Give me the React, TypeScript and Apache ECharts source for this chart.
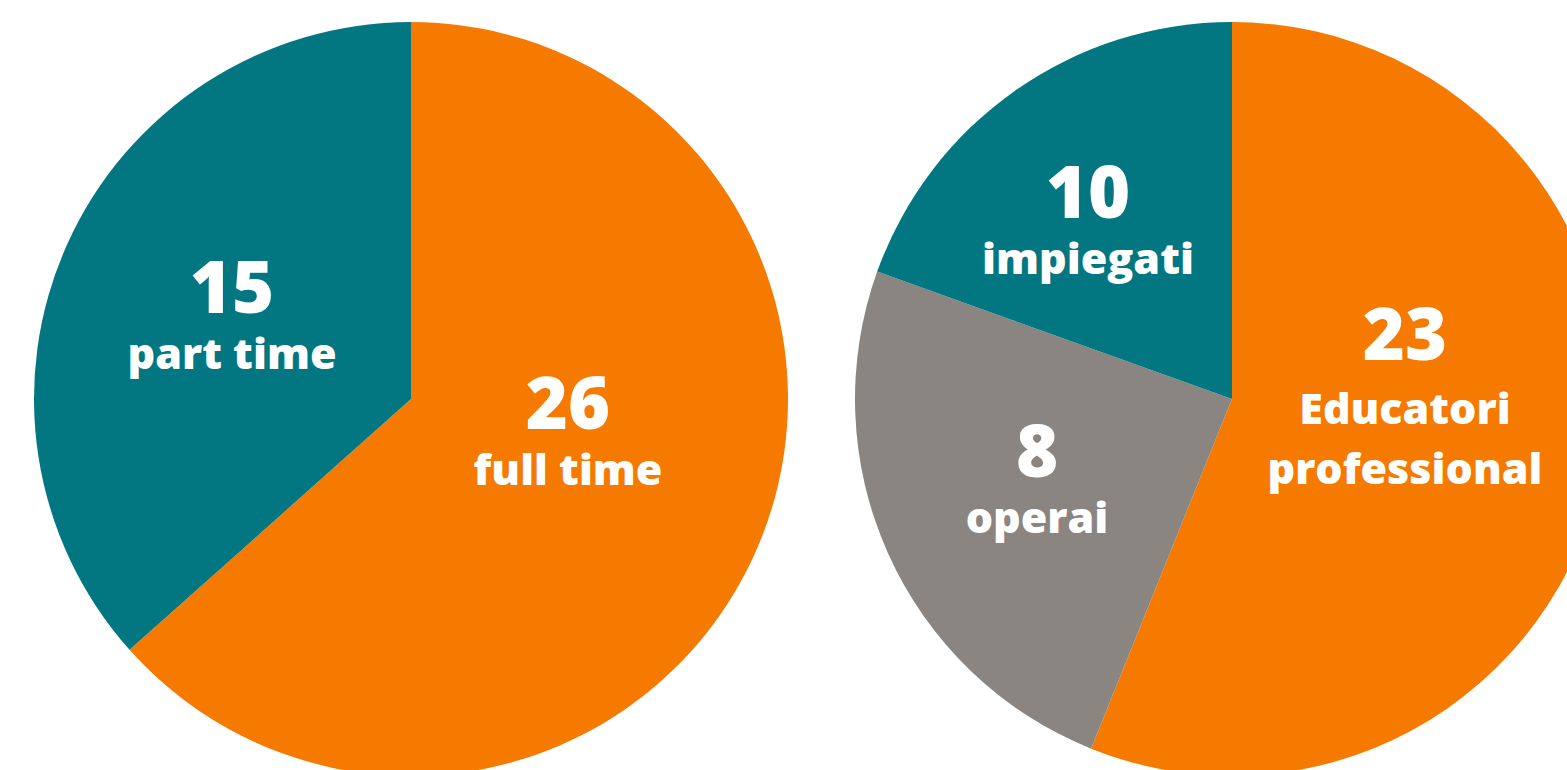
import React, { useEffect, useRef } from "react";
import * as echarts from "echarts";

// Left pie: contract type
const leftNames = ["full time", "part time"];
const leftValues = [26, 15];
// Right pie: roles (slice sizes as drawn, clockwise from top)
const rightNames = ["Educatori\nprofessional", "operai", "impiegati"];
const rightValues = [23, 10, 8];
// Numbers printed in the labels of the right pie
const rightLabelNumbers = [23, 8, 10];

const leftColors = ["#F77A00", "#027782"];
const rightColors = ["#F77A00", "#8A8581", "#027782"];

// label block centres (pixels)
const leftLabelPos = [
  [568, 423],
  [232, 307],
];
const rightLabelPos = [
  [1405, 392],
  [1037, 471],
  [1088, 212],
];

const FONT = "'Open Sans', sans-serif";

const rich = {
  num: { fontSize: 72, fontWeight: 800, color: "#fff", fontFamily: FONT, lineHeight: 90 },
  txt: { fontSize: 43, fontWeight: 800, color: "#fff", fontFamily: FONT, lineHeight: 44 },
  txtb: { fontSize: 43, fontWeight: 800, color: "#fff", fontFamily: FONT, lineHeight: 60 },
};

export default function App() {
  const ref = useRef<HTMLDivElement>(null);
  useEffect(() => {
    const chart = echarts.init(ref.current!, null, { renderer: "svg" });
    chart.setOption({
      animation: false,
      backgroundColor: "#ffffff",
      series: [
        {
          type: "pie",
          center: [411, 399],
          radius: [0, 377],
          startAngle: 90,
          clockwise: true,
          silent: true,
          itemStyle: { borderWidth: 0 },
          label: {
            show: true,
            position: "inside",
            formatter: (p: any) => `{num|${leftValues[p.dataIndex]}}\n{txt|${leftNames[p.dataIndex]}}`,
            rich,
            align: "center",
          },
          labelLine: { show: false },
          labelLayout: (p: any) => ({
            x: leftLabelPos[p.dataIndex][0],
            y: leftLabelPos[p.dataIndex][1],
            align: "center",
            verticalAlign: "middle",
          }),
          data: leftNames.map((n, i) => ({ name: n, value: leftValues[i], itemStyle: { color: leftColors[i] } })),
        },
        {
          type: "pie",
          center: [1232, 399],
          radius: [0, 377],
          startAngle: 90,
          clockwise: true,
          silent: true,
          itemStyle: { borderWidth: 0 },
          label: {
            show: true,
            position: "inside",
            formatter: (p: any) => {
              const parts = rightNames[p.dataIndex].split("\n");
              const style = parts.length > 1 ? "txtb" : "txt";
              const lines = parts.map((l) => `{${style}|${l}}`).join("\n");
              return `{num|${rightLabelNumbers[p.dataIndex]}}\n${lines}`;
            },
            rich,
            align: "center",
          },
          labelLine: { show: false },
          labelLayout: (p: any) => ({
            x: rightLabelPos[p.dataIndex][0],
            y: rightLabelPos[p.dataIndex][1],
            align: "center",
            verticalAlign: "middle",
          }),
          data: rightNames.map((n, i) => ({ name: n, value: rightValues[i], itemStyle: { color: rightColors[i] } })),
        },
      ],
    });
    return () => chart.dispose();
  }, []);
  return (
    <div
      ref={ref}
      style={{ position: "fixed", left: 0, top: 0, width: 1567, height: 770, background: "#fff" }}
    />
  );
}
